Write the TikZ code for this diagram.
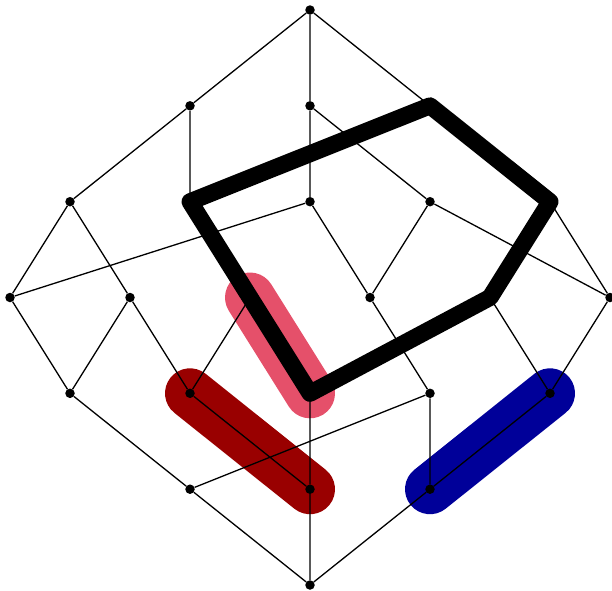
\documentclass[tikz,border=0pt]{standalone}
\definecolor{hlpink}{HTML}{E5506A}
\definecolor{hlred}{HTML}{990000}
\definecolor{hlblue}{HTML}{000099}
\pgfdeclarelayer{bg}
\pgfdeclarelayer{fg}
\pgfsetlayers{bg,main,fg}
\tikzset{
  v/.style={circle,fill=black,inner sep=0pt,minimum size=9.5pt},
  e/.style={line width=1.3pt},
  band/.style={line width=50pt,line cap=round},
  cyc/.style={line width=17pt,line join=round}
}
\begin{document}
\begin{tikzpicture}[x=1pt,y=-1pt]
\useasboundingbox (0,0) rectangle (612,590);
% vertices
\node[v] (t)  at (310,10) {};
\node[v] (b1) at (190,105.8) {};
\node[v] (b2) at (310,105.8) {};
\node[v] (b3) at (430,105.8) {};
\node[v] (c1) at (70,201.7) {};
\node[v] (c2) at (190,201.7) {};
\node[v] (c3) at (310,201.7) {};
\node[v] (c4) at (430,201.7) {};
\node[v] (c5) at (550,201.7) {};
\node[v] (d1) at (10,297.5) {};
\node[v] (d2) at (130,297.5) {};
\node[v] (d3) at (250,297.5) {};
\node[v] (d4) at (370,297.5) {};
\node[v] (d5) at (490,297.5) {};
\node[v] (d6) at (610,297.5) {};
\node[v] (e1) at (70,393.3) {};
\node[v] (e2) at (190,393.3) {};
\node[v] (e3) at (310,393.3) {};
\node[v] (e4) at (430,393.3) {};
\node[v] (e5) at (550,393.3) {};
\node[v] (f1) at (190,489.2) {};
\node[v] (f2) at (310,489.2) {};
\node[v] (f3) at (430,489.2) {};
\node[v] (g)  at (310,585) {};
% edges
\draw[e] (t)--(b1) (t)--(b2) (t)--(b3)
  (b1)--(c1) (b1)--(c2) (b2)--(c3) (b2)--(c4) (b3)--(c2) (b3)--(c5)
  (c1)--(d1) (c1)--(d2) (c2)--(d3) (c3)--(d1) (c3)--(d4) (c4)--(d4) (c4)--(d6) (c5)--(d5) (c5)--(d6)
  (d1)--(e1) (d2)--(e1) (d2)--(e2) (d3)--(e2) (d3)--(e3) (d4)--(e4) (d5)--(e3) (d5)--(e5) (d6)--(e5)
  (e1)--(f1) (e2)--(f2) (e3)--(f2) (e4)--(f1) (e4)--(f3) (e5)--(f3)
  (f1)--(g) (f2)--(g) (f3)--(g);
% highlights
\begin{pgfonlayer}{bg}
\draw[band,hlpink] (d3.center)--(e3.center);
\draw[band,hlred] (e2.center)--(f2.center);
\draw[band,hlblue] (f3.center)--(e5.center);
\end{pgfonlayer}
\begin{pgfonlayer}{fg}
\draw[cyc] (c2.center)--(b3.center)--(c5.center)--(d5.center)--(e3.center)--cycle;
\end{pgfonlayer}
\end{tikzpicture}
\end{document}
